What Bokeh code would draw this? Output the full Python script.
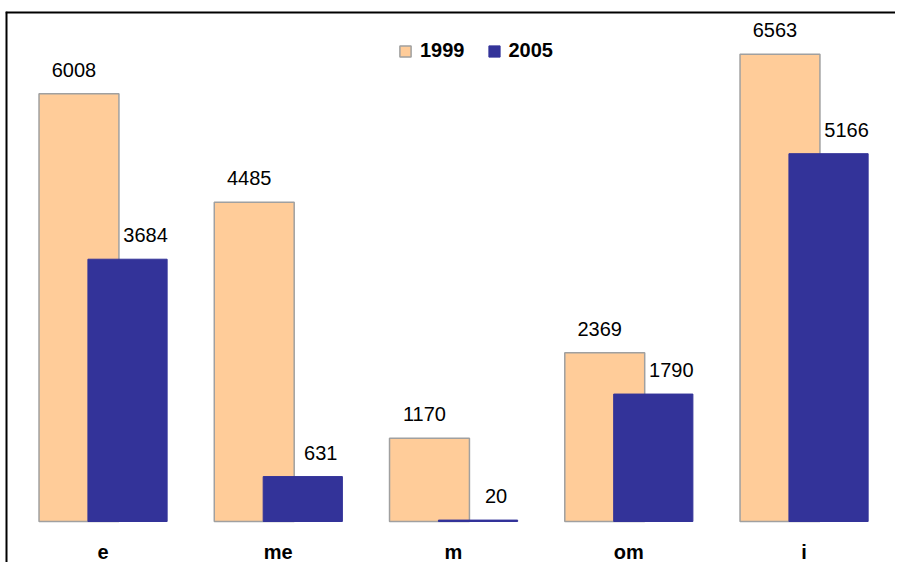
from bokeh.plotting import figure
from bokeh.models import ColumnDataSource, Range1d, LabelSet, Legend, LegendItem, Span
from bokeh.transform import dodge
from bokeh.core.properties import value
from bokeh.embed import file_html
from bokeh.resources import INLINE

categories = ["e", "me", "m", "om", "i"]
series_names = ["1999", "2005"]
values_1999 = [6008, 4485, 1170, 2369, 6563]
values_2005 = [3684, 631, 20, 1790, 5166]

source = ColumnDataSource(data=dict(
    x=list(range(len(categories))),
    cat=categories,
    zero=[0] * len(categories),
    v1999=values_1999,
    v2005=values_2005,
    t1999=[str(v) for v in values_1999],
    t2005=[str(v) for v in values_2005],
))

PEACH = "#FFCC99"
BLUE = "#333399"
FONT = "Liberation Sans"

p = figure(width=895, height=562, output_backend="svg", toolbar_location=None,
           x_range=Range1d(-0.5563, 4.5221), y_range=Range1d(-575.8, 7163),
           x_axis_location=None, y_axis_location=None,
           min_border_left=5, min_border_right=0, min_border_top=11, min_border_bottom=0,
           outline_line_color=None,
           background_fill_color="white", border_fill_color="white")
p.grid.grid_line_color = None

r1 = p.vbar(x=dodge("x", -0.137, range=p.x_range), top="v1999", width=0.456, source=source,
            fill_color=PEACH, line_color="#A0A0A0", line_width=1.5)
r2 = p.vbar(x=dodge("x", 0.14, range=p.x_range), top="v2005", width=0.452, source=source,
            fill_color=BLUE, line_color=BLUE, line_width=1)

lab1 = LabelSet(x=dodge("x", -0.137, range=p.x_range), y="v1999", text="t1999", source=source,
                x_offset=-5, y_offset=17, text_align="center", text_baseline="alphabetic",
                text_font=value(FONT), text_font_size="20px", text_color="black")
lab2 = LabelSet(x=dodge("x", 0.14, range=p.x_range), y="v2005", text="t2005", source=source,
                x_offset=18, y_offset=17, text_align="center", text_baseline="alphabetic",
                text_font=value(FONT), text_font_size="20px", text_color="black")
catlab = LabelSet(x="x", y="zero", text="cat", source=source,
                  x_offset=0, y_offset=-37, text_align="center", text_baseline="alphabetic",
                  text_font=value(FONT), text_font_size="20px", text_font_style="bold",
                  text_color="black")
p.add_layout(lab1)
p.add_layout(lab2)
p.add_layout(catlab)

# chart border (top and left sides, as in the reference)
p.add_layout(Span(location=p.x_range.start, dimension="height", line_color="black", line_width=4))
p.add_layout(Span(location=p.y_range.end, dimension="width", line_color="black", line_width=4))

legend = Legend(items=[LegendItem(label=series_names[0], renderers=[r1]),
                       LegendItem(label=series_names[1], renderers=[r2])],
                orientation="horizontal", location=(393, 500),
                glyph_width=14, glyph_height=14, label_standoff=8, spacing=22,
                padding=0, margin=0, border_line_color=None, background_fill_alpha=0,
                label_text_font=FONT, label_text_font_size="20px", label_text_font_style="bold",
                label_text_color="black")
p.add_layout(legend)

open("out.html", "w").write(file_html(p, INLINE))
